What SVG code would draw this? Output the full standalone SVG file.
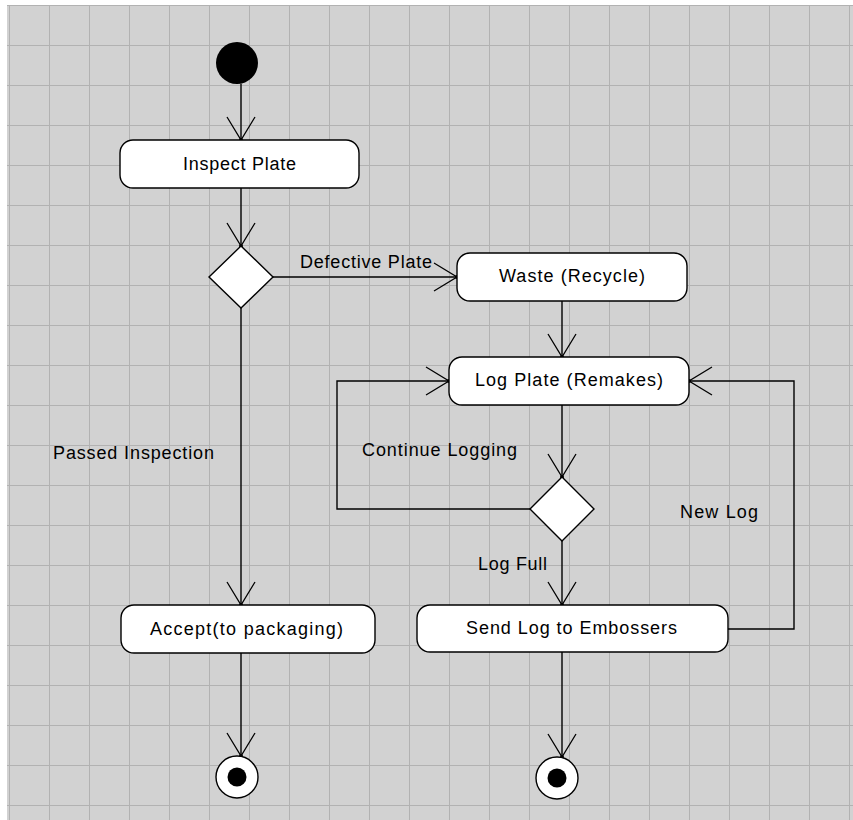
<svg xmlns="http://www.w3.org/2000/svg" width="853" height="820" viewBox="0 0 853 820">
<style>
.box{fill:#ffffff;stroke:#000000;stroke-width:1.4}
.dia{fill:#ffffff;stroke:#000000;stroke-width:1.4}
.edge{fill:none;stroke:#000000;stroke-width:1.4;marker-end:url(#arr)}
text{font-family:"Liberation Sans",Arial,sans-serif;font-size:18px;fill:#000000}
</style>
<defs>
<pattern id="grid" patternUnits="userSpaceOnUse" x="9" y="5" width="40" height="40">
<path d="M0 0.5 H40 M0.5 0 V40" fill="none" stroke="#b2b2b2" stroke-width="1"/>
</pattern>
<marker id="arr" markerUnits="userSpaceOnUse" markerWidth="30" markerHeight="32" viewBox="-26 -16 30 32" refX="0" refY="0" orient="auto" overflow="visible">
<path d="M-23,-14 L0,0 L-23,14" fill="none" stroke="#000000" stroke-width="1.3"/>
<circle cx="0" cy="0" r="2" fill="#000000"/>
</marker>
</defs>
<rect x="0" y="0" width="853" height="820" fill="#ffffff"/>
<rect x="7" y="5" width="846" height="815" fill="#d2d2d2"/>
<rect x="7" y="5" width="846" height="815" fill="url(#grid)"/>

<g id="connectors">
<path class="edge" d="M241 84 V140"/>
<path class="edge" d="M241 188 V246"/>
<path class="edge" d="M273 277 H457"/>
<path class="edge" d="M241 308 V605"/>
<path class="edge" d="M562 301 V357"/>
<path class="edge" d="M562 405 V477"/>
<path class="edge" d="M530 509 H337 V381 H449"/>
<path class="edge" d="M562 541 V605"/>
<path class="edge" d="M728 629 H794 V381 H689"/>
<path class="edge" d="M241 653 V756"/>
<path class="edge" d="M562 652 V757"/>
<text x="300" y="268" textLength="132" lengthAdjust="spacing">Defective Plate</text>
<text x="53" y="459" textLength="161" lengthAdjust="spacing">Passed Inspection</text>
<text x="362" y="456" textLength="155" lengthAdjust="spacing">Continue Logging</text>
<text x="478" y="570" textLength="69" lengthAdjust="spacing">Log Full</text>
<text x="680" y="518" textLength="78" lengthAdjust="spacing">New Log</text>
</g>

<g id="start">
<circle cx="237" cy="63" r="21" fill="#000000"/>
</g>
<g id="inspect">
<rect class="box" x="120" y="140" width="239" height="48" rx="13"/>
<text x="183" y="170" textLength="113" lengthAdjust="spacing">Inspect Plate</text>
</g>
<g id="decision1">
<polygon class="dia" points="241,246 273,277 241,308 209,277"/>
</g>
<g id="waste">
<rect class="box" x="457" y="253" width="230" height="48" rx="13"/>
<text x="499" y="282" textLength="146" lengthAdjust="spacing">Waste (Recycle)</text>
</g>
<g id="logplate">
<rect class="box" x="449" y="357" width="240" height="48" rx="13"/>
<text x="475" y="386" textLength="188" lengthAdjust="spacing">Log Plate (Remakes)</text>
</g>
<g id="decision2">
<polygon class="dia" points="562,477 594,509 562,541 530,509"/>
</g>
<g id="accept">
<rect class="box" x="121" y="605" width="254" height="48" rx="13"/>
<text x="150" y="635" textLength="193" lengthAdjust="spacing">Accept(to packaging)</text>
</g>
<g id="sendlog">
<rect class="box" x="417" y="605" width="311" height="47" rx="13"/>
<text x="466" y="634" textLength="211" lengthAdjust="spacing">Send Log to Embossers</text>
</g>
<g id="end1">
<circle cx="237" cy="777" r="21" fill="#ffffff" stroke="#000000" stroke-width="1.4"/>
<circle cx="237" cy="777" r="9.5" fill="#000000"/>
</g>
<g id="end2">
<circle cx="557" cy="778" r="21" fill="#ffffff" stroke="#000000" stroke-width="1.4"/>
<circle cx="557" cy="778" r="9.5" fill="#000000"/>
</g>
</svg>
